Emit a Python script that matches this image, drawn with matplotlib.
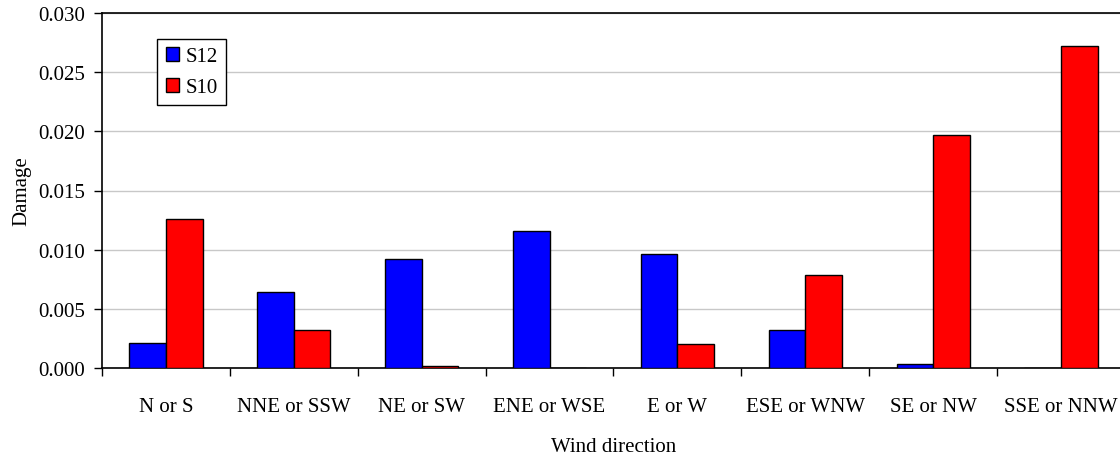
import numpy as np
import matplotlib.pyplot as plt
from matplotlib.ticker import MultipleLocator, FixedLocator

directions = ["N or S", "NNE or SSW", "NE or SW", "ENE or WSE",
              "E or W", "ESE or WNW", "SE or NW", "SSE or NNW"]
s12 = [0.0021, 0.0064, 0.0092, 0.0116, 0.0096, 0.0032, 0.0003, 0.0]
s10 = [0.0126, 0.0032, 0.0002, 0.0, 0.0020, 0.0079, 0.0197, 0.0272]

plt.rcParams['font.family'] = ['Liberation Serif', 'DejaVu Serif']
fs = 15

fig = plt.figure(figsize=(11.2, 4.56), dpi=100)
ax = fig.add_axes([102 / 1120, 87 / 456, 1023 / 1120, 355 / 456])

x = np.arange(len(directions))
w = 0.286
ax.bar(x - w / 2, s12, w, color='#0000ff', edgecolor='black', linewidth=1, label='S12', zorder=3)
ax.bar(x + w / 2, s10, w, color='#ff0000', edgecolor='black', linewidth=1, label='S10', zorder=3)

ax.set_xlim(-0.5, len(directions) - 0.5)
ax.set_ylim(0, 0.030)
ax.yaxis.set_major_locator(MultipleLocator(0.005))
ax.yaxis.set_major_formatter(plt.FormatStrFormatter('%.3f'))
ax.grid(axis='y', color='#c8c8c8', linewidth=1, zorder=0)

ax.set_xticks(x)
ax.set_xticklabels(directions)
ax.xaxis.set_minor_locator(FixedLocator(np.arange(-0.5, len(directions), 1.0)))
ax.tick_params(axis='x', which='major', length=0, pad=21, labelsize=fs)
ax.tick_params(axis='x', which='minor', length=6, width=1, direction='out')
ax.tick_params(axis='y', length=6, width=1, direction='out', pad=6, labelsize=fs)

for s in ['left', 'bottom', 'top']:
    ax.spines[s].set_linewidth(1.2)
ax.spines['right'].set_visible(False)

ax.set_xlabel('Wind direction', fontsize=fs, labelpad=15)
ax.set_ylabel('Damage', fontsize=fs, labelpad=5)

leg = ax.legend(loc='upper left', bbox_to_anchor=(0.054, 0.928), fontsize=fs,
                frameon=True, fancybox=False, edgecolor='black', framealpha=1,
                handlelength=0.65, handleheight=0.65, handletextpad=0.3,
                labelspacing=0.55, borderpad=0.4, borderaxespad=0)
leg.get_frame().set_linewidth(1)

fig.savefig('out.png', dpi=100)
